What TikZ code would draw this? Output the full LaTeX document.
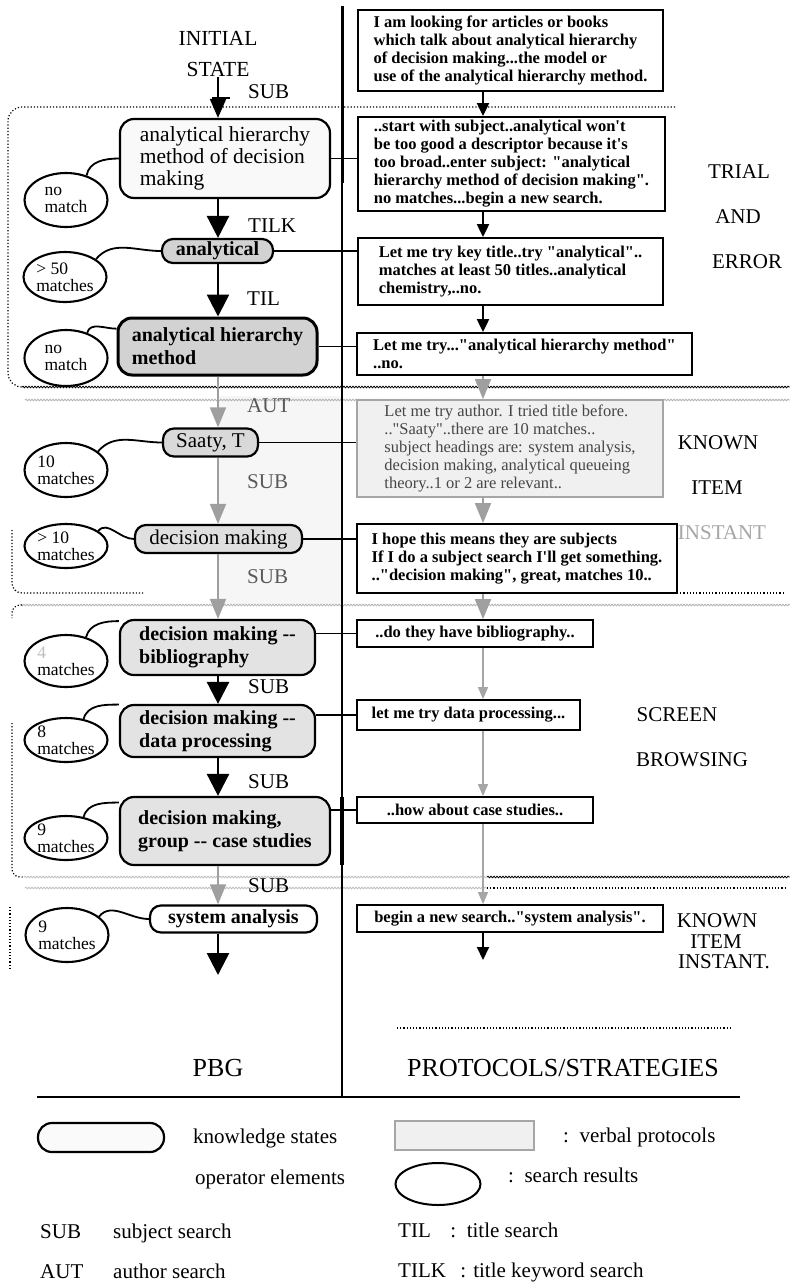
\documentclass[tikz,border=0pt]{standalone}
\usepackage{fontspec}
\setmainfont{Liberation Serif}[Ligatures=TeXOff]
\usetikzlibrary{arrows.meta,shapes.geometric,decorations.pathmorphing}
\begin{document}
\begin{tikzpicture}[x=1pt,y=-1pt,
  ks/.style={draw, line width=2.2pt, rounded corners=14pt, inner sep=0pt, align=left, font=\fontsize{21.5}{22}\selectfont},
  ksb/.style={ks, font=\fontsize{20}{23}\selectfont\bfseries},
  pill/.style={rounded corners=11pt},
  pr/.style={draw, line width=1.8pt, fill=white, inner sep=0pt, align=left, font=\fontsize{16.5}{18}\selectfont\bfseries},
  res/.style={draw, ellipse, line width=2.1pt, minimum width=83pt, inner sep=0pt, align=left, font=\fontsize{17.5}{17}\selectfont},
  lab/.style={anchor=west, inner sep=0pt, text height=15pt, text depth=4pt, font=\fontsize{21}{22}\selectfont},
  side/.style={inner sep=0pt, font=\fontsize{21}{22}\selectfont},
  conn/.style={line width=1.8pt},
  big/.style={line width=2.6pt, -{Triangle[width=22pt,length=22pt]}},
  garr/.style={draw=gray!75, line width=1.8pt, -{Triangle[width=16pt,length=20pt]}},
  parr/.style={line width=2pt, -{Triangle[width=12pt,length=13pt]}},
  pgarr/.style={draw=gray!70, line width=1.4pt, -{Triangle[width=10pt,length=12pt]}},
  wave/.style={decorate, decoration={snake, segment length=3pt, amplitude=0.8pt}, line width=0.8pt},
  dots/.style={dotted, line width=1.2pt},
]
\useasboundingbox (0,0) rectangle (790,1283);
\fill[white] (0,0) rectangle (790,1283);
\fill[gray!7] (219,396) rectangle (341,604);

\coordinate (ax) at (218,0);
\coordinate (px) at (483,0);

% region boundaries
\draw[dots, rounded corners=14pt] (675,107) -- (8,107) -- (8,387) -- (24,387);
\draw[wave] (22,387) -- (790,387);
\draw[wave, draw=gray!60] (25,400) -- (790,400);
\draw[dots, rounded corners=10pt] (12,530) -- (12,593) -- (143,593);
\draw[dots] (677,593) -- (785,593);
\draw[wave, draw=gray!60] (20,605) -- (790,605);
\draw[dots, rounded corners=8pt] (22,605) -- (12,605) -- (12,618);
\draw[dots, rounded corners=8pt] (12,723) -- (12,877) -- (24,877);
\draw[wave, draw=gray!50] (24,877) -- (487,877);
\draw[wave] (487,877) -- (790,877);
\draw[wave, draw=gray!50] (25,888) -- (487,888);
\draw[dots] (487,888) -- (785,888);
\draw[dots] (10,907) -- (10,968);
\draw[dots] (397,1028) -- (732,1028);

% central divider
\draw[line width=1.6pt] (342,6) -- (342,1097);
\draw[line width=3pt] (342,6) -- (342,183);
\draw[line width=4pt] (342,797) -- (342,865);
\draw[line width=2.5pt] (37,1097) -- (740,1097);

% PBG side
\node[side, align=center, font=\fontsize{21.5}{31}\selectfont] (init) at (218,54) {INITIAL\\STATE};
\node[ks, minimum width=210pt, minimum height=79pt, fill=gray!5] (n1) at (225,158.5) {analytical hierarchy\\method of decision\\making};
\node[ksb, pill, minimum width=111pt, minimum height=24pt, fill=gray!35] (n2) at (217.5,251) {analytical};
\node[ksb, line width=3pt, minimum width=199pt, minimum height=57pt, fill=gray!35] (n3) at (217.5,346.5) {analytical hierarchy\\method};
\node[ks, pill, minimum width=95pt, minimum height=28pt, fill=gray!30, font=\fontsize{21}{22}\selectfont] (n4) at (210.5,442.5) {Saaty, T};
\node[ks, pill, minimum width=167pt, minimum height=28pt, fill=gray!25, font=\fontsize{21}{22}\selectfont] (n5) at (218.5,539) {decision making};
\node[ksb, minimum width=195pt, minimum height=55pt, fill=gray!22] (n6) at (217.5,647.5) {decision making -{}-\\bibliography};
\node[ksb, minimum width=195pt, minimum height=52pt, fill=gray!22] (n7) at (217.5,731) {decision making -{}-\\data processing};
\node[ksb, minimum width=210pt, minimum height=68pt, fill=gray!22] (n8) at (225,831) {decision making,\\group -{}- case studies};
\node[ksb, pill, minimum width=167pt, minimum height=27pt, fill=white] (n9) at (233.5,919) {system analysis};

\node[res, minimum height=54pt] (e1) at (66,200) {no\\match};
\node[res, minimum height=50pt] (e2) at (65,277) {> 50\\matches};
\node[res, minimum height=56pt] (e3) at (66,358) {no\\match};
\node[res, minimum height=54pt] (e4) at (66,470) {10\\matches};
\node[res, minimum height=44pt] (e5) at (66,546) {> 10\\matches};
\node[res, minimum height=52pt] (e6) at (66,661) {{\color{gray!50}4}\\matches};
\node[res, minimum height=44pt] (e7) at (66,740) {8\\matches};
\node[res, minimum height=44pt] (e8) at (66,838) {9\\matches};
\node[res, minimum height=54pt] (e9) at (67,935) {9\\matches};

\draw[conn] (e1.50) to[out=80,in=180] (n1.west);
\draw[conn] (e2.30) to[out=50,in=180] (n2.west);
\draw[conn] (e3.50) to[out=75,in=180] (n3.170);
\draw[conn] (e4.30) to[out=50,in=180] (n4.west);
\draw[conn] (e5.25) to[out=50,in=180] (n5.west);
\draw[conn] (e6.50) to[out=75,in=180] (n6.165);
\draw[conn] (e7.50) to[out=75,in=180] (n7.165);
\draw[conn] (e8.50) to[out=75,in=180] (n8.165);
\draw[conn] (e9.30) to[out=50,in=180] (n9.west);

\draw[line width=2pt, -{Triangle[width=16pt,length=19pt]}] (init.south -| ax) -- (n1.north -| ax);
\draw[line width=2pt] (212,98) -- (230,98);
\draw[big] (n1.south -| ax) -- (n2.north -| ax);
\draw[big] (n2.south -| ax) -- (n3.north -| ax);
\draw[garr] (n3.south -| ax) -- (n4.north -| ax);
\draw[garr] (n4.south -| ax) -- (n5.north -| ax);
\draw[garr] (n5.south -| ax) -- (n6.north -| ax);
\draw[big] (n6.south -| ax) -- (n7.north -| ax);
\draw[big] (n7.south -| ax) -- (n8.north -| ax);
\draw[garr] (n8.south -| ax) -- (n9.north -| ax);
\coordinate (endL) at (218,975);
\draw[big] (n9.south -| ax) -- (endL);

\node[lab] (lsub0) at (248,93) {SUB};
\node[lab] (ltilk) at (248,227) {TILK};
\node[lab] (ltil) at (247,300) {TIL};
\node[lab, text=gray!70!black] (laut) at (247,407) {AUT};
\node[lab, text=gray!70!black] (lsub1) at (247,483) {SUB};
\node[lab, text=gray!70!black] (lsub2) at (247,578) {SUB};
\node[lab] (lsub3) at (248,688) {SUB};
\node[lab] (lsub4) at (248,783) {SUB};
\node[lab] (lsub5) at (248,887) {SUB};

% protocols side
\node[side] (tr1) at (739,172) {TRIAL};
\node[side] (tr2) at (738,217) {AND};
\node[side] (tr3) at (747,262) {ERROR};
\node[side] (ki1) at (718,443) {KNOWN};
\node[side] (ki2) at (717,488) {ITEM};
\node[side, text=gray!70] (ki3) at (722,533) {INSTANT};
\node[side] (sb1) at (677,715) {SCREEN};
\node[side] (sb2) at (692,760) {BROWSING};
\node[side] (kj1) at (717,921) {KNOWN};
\node[side] (kj2) at (716,942) {ITEM};
\node[side] (kj3) at (724,962) {INSTANT.};

\node[pr, minimum width=305pt, minimum height=81pt] (p1) at (510.5,50.5) {I am looking for articles or books\\which talk about analytical hierarchy\\of decision making...the model or\\use of the analytical hierarchy method.};
\node[pr, minimum width=307pt, minimum height=94pt] (p2) at (511.5,164) {..start with subject..analytical won't\\be too good a descriptor because it's\\too broad..enter subject: "analytical\\hierarchy method of decision making".\\no matches...begin a new search.};
\node[pr, minimum width=305pt, minimum height=67pt] (p3) at (510.5,271.5) {Let me try key title..try "analytical"..\\matches at least 50 titles..analytical\\chemistry,..no.};
\node[pr, minimum width=335pt, minimum height=42pt] (p4) at (524.5,354) {Let me try..."analytical hierarchy method"\\..no.};
\node[pr, draw=gray!70, fill=gray!12, text=gray!55!black, font=\fontsize{16.5}{18}\selectfont] (p5) at (510,448.5) [minimum width=306pt, minimum height=97pt] {Let me try author. I tried title before.\\.."Saaty"..there are 10 matches..\\subject headings are: system analysis,\\decision making, analytical queueing\\theory..1 or 2 are relevant..};
\node[pr, minimum width=320pt, minimum height=69pt] (p6) at (517,558.5) {I hope this means they are subjects\\If I do a subject search I'll get something.\\.."decision making", great, matches 10..};
\node[pr, minimum width=236pt, minimum height=27pt] (p7) at (475,633.5) {..do they have bibliography..};
\node[pr, minimum width=223pt, minimum height=30pt] (p8) at (468.5,715) {let me try data processing...};
\node[pr, minimum width=236pt, minimum height=26pt] (p9) at (475,810) {..how about case studies..};
\node[pr, minimum width=306pt, minimum height=27pt] (p10) at (510,918.5) {begin a new search.."system analysis".};

\draw[parr] (p1.south -| px) -- (p2.north -| px);
\draw[parr] (p2.south -| px) -- (p3.north -| px);
\draw[parr] (p3.south -| px) -- (p4.north -| px);
\draw[garr] (p4.south -| px) -- (p5.north -| px);
\draw[garr] (p5.south -| px) -- (p6.north -| px);
\draw[garr] (p6.south -| px) -- (p7.north -| px);
\draw[pgarr] (p7.south -| px) -- (p8.north -| px);
\draw[pgarr] (p8.south -| px) -- (p9.north -| px);
\draw[pgarr] (p9.south -| px) -- (p10.north -| px);
\coordinate (endR) at (483,960);
\draw[parr] (p10.south -| px) -- (endR);

% node to protocol links
\draw[conn] (n1.east) -- (n1.east -| p2.west);
\draw[line width=1.3pt] (n2.east) -- (n2.east -| p3.west);
\draw[conn] (n3.east) -- (n3.east -| p4.west);
\draw[line width=1.3pt] (n4.east) -- (n4.east -| p5.west);
\draw[line width=1.3pt] (n5.east) -- (n5.east -| p6.west);
\draw[line width=1.3pt] (n6.east |- p7.west) -- (p7.west);
\draw[line width=1.3pt] (n7.east |- p8.west) -- (p8.west);
\draw[conn] (n8.east |- p9.west) -- (p9.west);

% headings
\node[side, font=\fontsize{26}{28}\selectfont] (hpbg) at (218,1068) {PBG};
\node[side, font=\fontsize{26}{28}\selectfont] (hprot) at (563,1068) {PROTOCOLS/STRATEGIES};

% legend
\node[draw, line width=2.2pt, rounded corners=14pt, minimum width=126pt, minimum height=29pt, fill=gray!4] (lks) at (101,1137.5) {};
\node[lab] (tks) at (193,1138) {knowledge states};
\node[draw=gray!70, line width=2pt, fill=gray!12, minimum width=139pt, minimum height=29pt] (lvp) at (464.5,1135.5) {};
\node[lab] (tvp) at (563,1137) {:\ \ verbal protocols};
\node[lab] (top) at (195,1179) {operator elements};
\node[draw, ellipse, line width=2pt, minimum width=85pt, minimum height=42pt] (lsr) at (438,1184) {};
\node[lab] (tsr) at (508,1177) {:\ \ search results};
\node[lab] (ksub) at (40,1233) {SUB};
\node[lab] (dsub) at (113,1233) {subject search};
\node[lab] (ktil) at (398,1232) {TIL};
\node[lab] (dtil) at (445,1232) {\ :\ \ title search};
\node[lab] (kaut) at (40,1273) {AUT};
\node[lab] (daut) at (113,1273) {author search};
\node[lab] (ktilk) at (398,1272) {TILK};
\node[lab] (dtilk) at (455,1272) {\ : title keyword search};
\end{tikzpicture}
\end{document}
